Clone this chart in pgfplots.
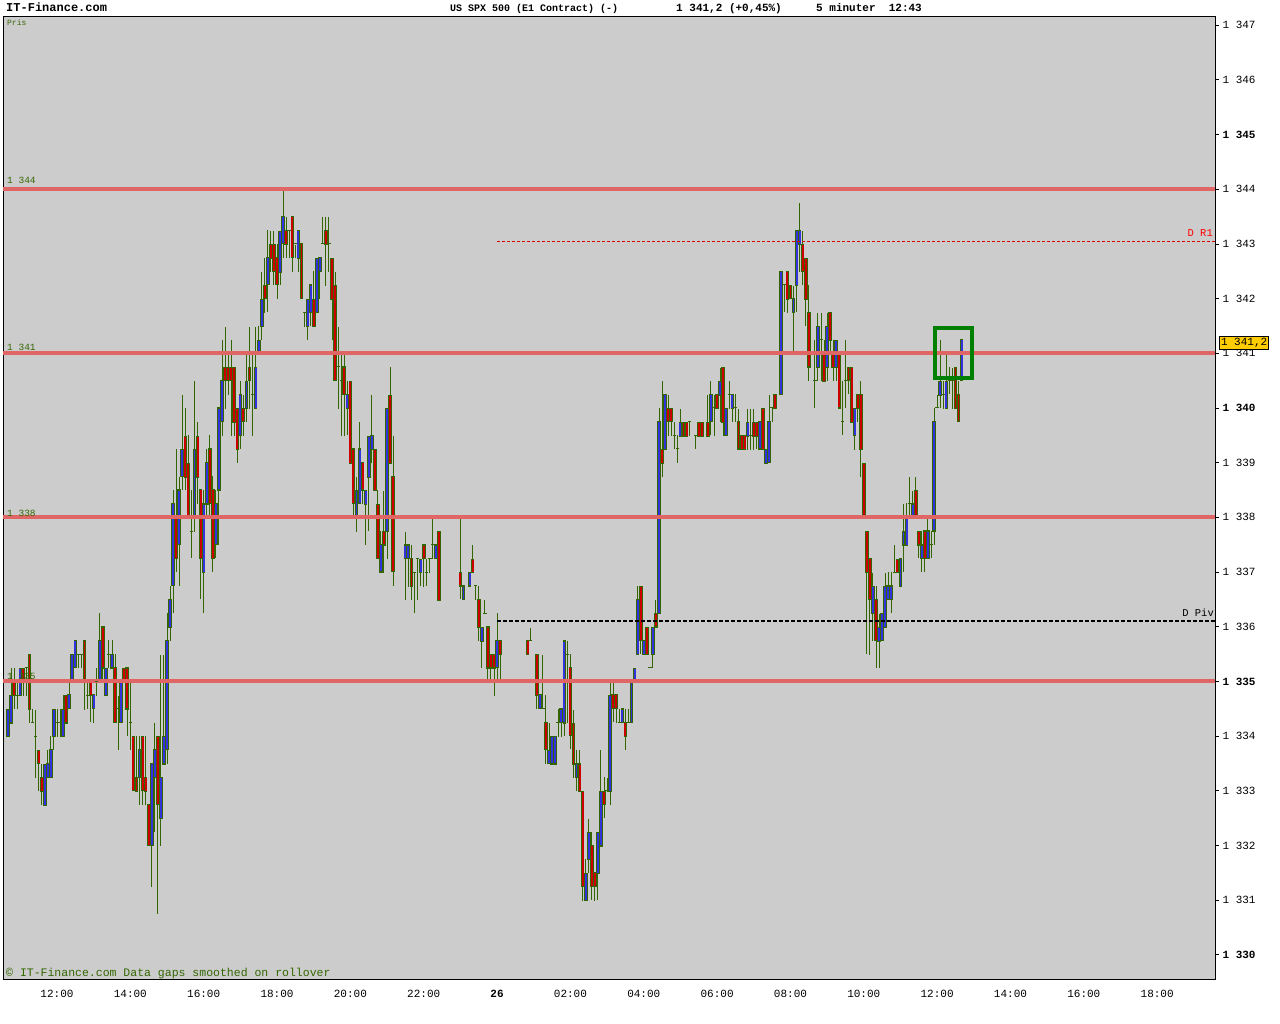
\documentclass[border=0pt]{standalone}
\usepackage{pgfplots}
\pgfplotsset{compat=1.18}
\usepackage{pgfplotstable}
\usepackage{fontspec}
\setmainfont{Liberation Mono}
\definecolor{bg}{HTML}{CCCCCC}
\definecolor{wick}{HTML}{336600}
\definecolor{upc}{HTML}{3333DD}
\definecolor{dnc}{HTML}{CC0000}
\definecolor{lvl}{HTML}{E06666}
\definecolor{pbox}{HTML}{FFCC00}
\pgfplotstableread{
n o h l c
-16 1334.00 1334.50 1334.00 1334.50
-15 1334.25 1335.25 1334.25 1334.75
-14 1335.00 1335.25 1334.50 1334.75
-13 1334.75 1335.00 1334.50 1334.75
-12 1334.75 1335.25 1334.75 1335.25
-11 1335.25 1335.25 1334.75 1335.00
-10 1335.25 1335.25 1334.75 1335.25
-9 1335.50 1335.50 1334.25 1334.50
-8 1334.25 1334.50 1334.25 1334.25
-7 1334.00 1334.50 1333.25 1334.00
-6 1333.75 1333.75 1333.00 1333.50
-5 1333.25 1333.50 1332.75 1333.00
-4 1332.75 1333.50 1332.75 1333.50
-3 1333.25 1333.75 1333.25 1333.50
-2 1333.25 1334.00 1333.25 1333.75
-1 1334.00 1334.50 1333.75 1334.50
0 1334.25 1334.50 1334.00 1334.25
1 1334.25 1334.50 1334.00 1334.25
2 1334.00 1334.75 1334.00 1334.50
3 1334.75 1334.75 1334.25 1334.25
4 1334.50 1335.00 1334.50 1334.75
5 1335.00 1335.50 1335.00 1335.50
6 1335.25 1335.75 1335.25 1335.75
7 1335.50 1335.50 1335.25 1335.50
8 1335.50 1335.50 1335.25 1335.50
9 1335.75 1335.75 1334.50 1335.00
10 1334.75 1335.00 1334.50 1334.75
11 1335.00 1335.00 1334.25 1334.75
12 1334.50 1334.75 1334.25 1334.75
13 1335.00 1335.25 1334.75 1335.00
14 1335.00 1336.25 1335.00 1335.75
15 1336.00 1336.00 1335.00 1335.25
16 1334.75 1335.25 1334.75 1335.25
17 1335.50 1335.75 1335.25 1335.50
18 1335.25 1335.75 1335.25 1335.50
19 1335.25 1335.50 1334.25 1334.25
20 1334.50 1334.75 1333.75 1334.50
21 1334.25 1335.00 1334.25 1335.00
22 1335.25 1335.25 1335.00 1335.00
23 1335.25 1335.25 1334.00 1334.50
24 1334.25 1335.00 1333.75 1334.25
25 1334.00 1334.00 1333.00 1333.00
26 1333.25 1334.00 1333.00 1333.00
27 1333.25 1334.00 1332.75 1333.75
28 1334.00 1334.00 1332.75 1333.00
29 1333.25 1334.00 1332.75 1333.00
30 1332.75 1332.75 1332.00 1332.00
31 1332.00 1333.50 1331.25 1333.50
32 1333.25 1334.25 1332.25 1333.75
33 1334.00 1334.00 1330.75 1332.75
34 1332.50 1335.50 1332.00 1333.25
35 1333.50 1335.50 1333.50 1334.00
36 1333.75 1336.25 1333.50 1335.75
37 1336.00 1336.75 1335.75 1336.50
38 1336.75 1338.50 1336.25 1338.25
39 1338.00 1339.25 1337.00 1337.25
40 1337.50 1338.75 1336.75 1338.50
41 1338.75 1340.25 1338.50 1339.25
42 1339.50 1340.00 1338.50 1338.75
43 1339.00 1339.50 1338.00 1338.00
44 1337.75 1338.50 1337.25 1337.75
45 1338.00 1340.50 1337.75 1339.25
46 1339.50 1339.75 1338.25 1338.75
47 1338.50 1338.50 1336.50 1337.25
48 1337.00 1338.50 1336.25 1338.25
49 1338.25 1339.25 1338.00 1339.00
50 1339.25 1339.50 1338.00 1338.25
51 1338.50 1338.75 1337.00 1337.25
52 1337.50 1338.50 1337.25 1338.25
53 1338.50 1340.00 1337.50 1340.00
54 1339.75 1341.25 1339.50 1340.50
55 1340.75 1341.50 1340.00 1340.50
56 1340.75 1341.00 1340.25 1340.50
57 1340.75 1341.25 1339.50 1340.50
58 1340.75 1340.75 1339.50 1339.75
59 1340.00 1340.00 1339.00 1339.25
60 1339.50 1340.50 1339.25 1340.25
61 1340.00 1340.25 1339.50 1339.75
62 1340.00 1341.00 1339.75 1340.50
63 1340.75 1341.50 1340.00 1340.50
64 1340.25 1341.00 1339.50 1340.25
65 1340.00 1341.50 1340.00 1340.75
66 1341.00 1341.50 1341.00 1341.25
67 1341.50 1342.50 1341.25 1342.00
68 1342.25 1342.75 1341.75 1342.00
69 1342.25 1343.25 1341.75 1342.75
70 1343.00 1343.25 1342.50 1342.75
71 1343.00 1343.25 1342.25 1342.50
72 1342.75 1343.00 1342.00 1342.25
73 1342.50 1343.25 1342.25 1343.25
74 1343.00 1344.00 1342.75 1343.50
75 1343.25 1343.50 1342.75 1343.00
76 1343.25 1343.25 1342.75 1343.25
77 1343.50 1343.50 1342.50 1342.75
78 1343.00 1343.00 1342.75 1343.00
79 1342.75 1343.25 1342.50 1343.25
80 1343.00 1343.00 1342.00 1342.00
81 1341.75 1341.75 1341.50 1341.75
82 1341.50 1342.00 1341.25 1342.00
83 1341.75 1342.25 1341.50 1342.25
84 1342.00 1342.50 1341.50 1341.50
85 1341.75 1342.75 1341.75 1342.75
86 1342.50 1342.75 1342.00 1342.75
87 1343.00 1343.50 1343.00 1343.00
88 1343.25 1343.50 1342.25 1343.00
89 1343.00 1343.50 1342.50 1343.00
90 1342.75 1342.75 1341.25 1342.00
91 1342.25 1342.50 1340.50 1340.50
92 1340.75 1341.50 1340.00 1340.75
93 1340.50 1341.00 1339.50 1340.50
94 1340.75 1341.00 1339.50 1340.25
95 1340.00 1340.50 1339.50 1340.25
96 1340.50 1340.50 1339.00 1339.00
97 1339.25 1339.25 1338.00 1338.25
98 1338.00 1338.75 1337.75 1338.50
99 1338.25 1339.75 1338.25 1339.25
100 1339.00 1339.00 1338.25 1338.50
101 1338.25 1338.50 1337.50 1338.50
102 1338.75 1339.50 1337.75 1339.50
103 1339.25 1340.25 1339.00 1339.50
104 1339.25 1339.25 1338.50 1338.50
105 1338.25 1338.50 1337.25 1337.25
106 1337.00 1337.75 1337.00 1337.50
107 1337.75 1338.50 1337.00 1337.50
108 1337.75 1340.00 1337.25 1340.00
109 1340.25 1340.75 1339.00 1339.00
110 1338.75 1339.50 1336.75 1337.00
114 1337.25 1337.75 1336.50 1337.50
115 1337.25 1337.50 1336.75 1337.50
116 1337.25 1337.50 1336.50 1336.75
117 1337.00 1337.00 1336.25 1337.00
118 1337.25 1337.25 1336.50 1337.25
119 1337.00 1337.25 1336.75 1337.25
120 1337.50 1337.50 1336.75 1337.25
121 1337.00 1337.25 1336.75 1337.00
122 1337.25 1337.25 1337.00 1337.25
123 1337.50 1338.00 1337.25 1337.50
124 1337.25 1337.50 1337.25 1337.50
125 1337.75 1337.75 1336.50 1336.50
132 1337.00 1338.00 1336.50 1336.75
133 1336.50 1336.75 1336.50 1336.75
135 1336.75 1337.00 1336.75 1337.00
136 1337.25 1337.50 1337.00 1337.00
137 1336.75 1336.75 1336.50 1336.75
138 1336.50 1336.75 1335.75 1336.00
139 1335.75 1336.00 1335.25 1336.00
140 1336.25 1336.50 1336.25 1336.25
141 1336.00 1336.00 1335.00 1335.25
142 1335.50 1335.50 1335.00 1335.25
143 1335.50 1335.50 1334.75 1335.25
144 1335.25 1336.25 1335.00 1335.75
145 1335.75 1335.75 1335.00 1335.50
154 1335.75 1335.75 1335.50 1335.50
155 1335.75 1336.00 1335.75 1335.75
157 1335.50 1335.50 1334.50 1334.75
158 1334.50 1334.75 1334.50 1334.75
159 1334.50 1335.50 1334.50 1334.50
160 1334.25 1334.75 1333.50 1333.75
161 1333.50 1334.25 1333.50 1333.75
162 1333.50 1334.00 1333.50 1334.00
163 1333.50 1334.00 1333.50 1334.00
164 1334.25 1334.50 1334.00 1334.25
165 1334.25 1334.50 1334.00 1334.50
166 1334.25 1335.75 1334.00 1335.75
167 1335.50 1335.75 1334.25 1335.50
168 1335.25 1335.50 1333.75 1334.00
169 1334.25 1334.50 1333.25 1333.50
170 1333.25 1333.75 1333.00 1333.50
171 1333.50 1333.75 1333.00 1333.00
172 1333.00 1333.00 1331.00 1331.25
173 1331.00 1331.75 1331.00 1331.50
174 1331.75 1332.50 1331.50 1332.25
175 1332.00 1332.25 1331.00 1331.25
176 1331.50 1331.50 1331.00 1331.25
177 1331.50 1332.25 1331.00 1332.25
178 1332.00 1333.75 1332.00 1333.00
179 1333.00 1333.25 1332.50 1332.75
180 1333.00 1333.25 1333.00 1333.00
181 1333.00 1335.00 1332.75 1334.75
182 1334.75 1335.00 1334.25 1334.50
183 1334.75 1334.75 1334.25 1334.50
184 1334.25 1334.50 1334.25 1334.25
185 1334.25 1334.50 1334.25 1334.50
186 1334.25 1334.50 1333.75 1334.00
187 1334.25 1334.50 1334.25 1334.25
188 1334.25 1335.00 1334.25 1335.00
189 1335.00 1335.25 1335.00 1335.25
190 1335.50 1336.75 1335.50 1336.50
191 1336.75 1336.75 1335.50 1335.75
192 1335.50 1335.75 1335.50 1335.75
193 1336.00 1336.00 1335.50 1335.50
194 1335.25 1335.25 1335.25 1335.25
195 1335.50 1336.00 1335.25 1336.00
196 1336.25 1336.50 1336.00 1336.00
197 1336.25 1340.00 1336.25 1339.75
198 1339.25 1340.50 1338.75 1339.00
199 1339.25 1340.25 1339.25 1340.25
200 1340.00 1340.25 1339.50 1339.75
201 1340.00 1340.00 1339.50 1339.75
202 1339.50 1339.75 1339.25 1339.50
203 1339.25 1339.50 1339.00 1339.25
204 1339.50 1340.00 1339.50 1339.75
205 1339.75 1339.75 1339.50 1339.50
206 1339.75 1339.75 1339.50 1339.50
207 1339.75 1339.75 1339.50 1339.75
209 1339.50 1339.50 1339.25 1339.50
210 1339.75 1339.75 1339.50 1339.50
211 1339.75 1339.75 1339.50 1339.50
213 1339.75 1340.25 1339.50 1339.50
214 1339.75 1340.50 1339.50 1340.25
215 1340.00 1340.25 1339.50 1340.00
216 1340.25 1340.25 1340.00 1340.00
217 1340.25 1340.75 1339.75 1340.50
218 1340.75 1340.75 1339.50 1339.75
219 1339.50 1340.00 1339.50 1340.00
220 1340.25 1340.50 1340.00 1340.25
221 1340.00 1340.25 1339.75 1340.25
222 1340.00 1340.25 1339.75 1340.00
223 1339.75 1340.00 1339.25 1339.25
224 1339.50 1339.50 1339.25 1339.25
225 1339.50 1339.50 1339.25 1339.25
226 1339.50 1340.00 1339.25 1339.75
227 1339.50 1340.00 1339.25 1339.50
228 1339.75 1340.00 1339.25 1339.50
229 1339.75 1339.75 1339.25 1339.50
230 1339.25 1339.75 1339.25 1339.75
231 1340.00 1340.00 1339.25 1339.25
232 1339.00 1339.25 1339.00 1339.25
233 1339.00 1340.25 1339.00 1339.75
234 1340.00 1340.00 1339.75 1340.00
235 1340.25 1340.25 1340.00 1340.00
237 1340.25 1342.50 1340.25 1342.50
238 1342.25 1342.25 1341.75 1342.25
239 1342.50 1342.50 1341.75 1342.00
240 1342.25 1342.25 1342.00 1342.00
241 1341.75 1342.25 1341.00 1342.00
242 1342.25 1343.25 1341.75 1343.25
243 1343.00 1343.75 1342.50 1343.25
244 1343.00 1343.25 1342.25 1342.50
245 1342.75 1342.75 1341.50 1342.00
246 1341.75 1342.25 1340.50 1340.75
248 1340.50 1341.25 1340.00 1340.50
249 1340.75 1341.75 1340.50 1341.50
250 1341.25 1341.75 1340.50 1341.25
251 1341.00 1341.25 1340.50 1340.50
252 1340.75 1341.75 1340.50 1341.50
253 1341.75 1341.75 1341.00 1341.25
254 1341.00 1341.25 1340.50 1340.75
255 1340.75 1341.25 1340.50 1341.25
256 1341.00 1341.00 1340.00 1340.00
257 1339.75 1340.50 1339.50 1339.75
258 1340.50 1341.25 1340.00 1340.50
259 1340.75 1340.75 1340.25 1340.50
260 1340.75 1340.75 1339.75 1339.75
261 1339.50 1340.00 1339.25 1340.00
262 1340.25 1340.25 1339.75 1340.00
263 1340.25 1340.50 1338.75 1339.25
264 1339.00 1339.00 1338.00 1338.00
265 1337.75 1337.75 1335.50 1337.00
266 1337.25 1337.25 1335.50 1336.50
267 1336.25 1337.00 1335.75 1336.75
268 1336.50 1336.75 1335.25 1335.75
269 1335.75 1336.25 1335.25 1336.00
270 1335.75 1336.25 1335.75 1336.25
271 1336.00 1337.00 1336.00 1336.75
272 1336.50 1337.00 1336.50 1336.75
273 1336.50 1337.00 1336.25 1336.75
274 1337.00 1337.50 1337.00 1337.00
275 1337.25 1337.25 1337.00 1337.00
276 1336.75 1337.25 1336.75 1337.25
277 1337.50 1338.25 1337.00 1337.75
278 1337.50 1338.25 1337.50 1338.00
279 1338.25 1338.75 1338.00 1338.25
280 1338.00 1338.50 1338.00 1338.25
281 1338.50 1338.75 1338.00 1338.00
282 1337.75 1337.75 1337.25 1337.50
283 1337.25 1337.75 1337.00 1337.50
284 1337.75 1337.75 1337.00 1337.25
285 1337.25 1338.00 1337.25 1337.75
286 1337.50 1337.75 1337.25 1337.50
287 1337.75 1340.00 1337.50 1339.75
288 1340.00 1340.25 1340.00 1340.00
289 1340.25 1341.25 1340.00 1340.50
290 1340.25 1340.50 1340.00 1340.25
291 1340.00 1341.00 1340.00 1340.50
292 1340.50 1340.75 1340.25 1340.50
293 1340.50 1340.75 1340.00 1340.50
294 1340.75 1340.75 1340.00 1340.00
295 1340.25 1340.50 1339.75 1339.75
296 1340.50 1341.25 1340.50 1341.25
}\candles
\begin{document}
\begin{tikzpicture}[x=1pt,y=1pt]
\path[use as bounding box] (0,0) rectangle (1280,1024);
\begin{axis}[
  at={(3pt,44pt)}, anchor=south west,
  scale only axis, width=1212pt, height=963pt,
  xmin=-17.67, xmax=378.93, ymin=1329.54, ymax=1347.15,
  axis background/.style={fill=bg},
  axis line style={black, line width=1pt},
  tick align=outside,
  major tick length=4pt,
  tick style={black, line width=0.8pt},
  xtick style={draw=none},
  ytick pos=right, yticklabel pos=right,
  xtick pos=bottom,
  ticklabel style={font=\fontsize{11}{13}\selectfont},
  xticklabel style={yshift=-3pt},
  xtick={0,24,48,72,96,120,144,168,192,216,240,264,288,312,336,360},
  xticklabels={12:00,14:00,16:00,18:00,20:00,22:00,\textbf{26},02:00,04:00,06:00,08:00,10:00,12:00,14:00,16:00,18:00},
  ytick={1330,1331,1332,1333,1334,1335,1336,1337,1338,1339,1340,1341,1342,1343,1344,1345,1346,1347},
  yticklabels={\textbf{1 330},1 331,1 332,1 333,1 334,\textbf{1 335},1 336,1 337,1 338,1 339,\textbf{1 340},1 341,1 342,1 343,1 344,\textbf{1 345},1 346,1 347},
  clip=true,
]
% wicks
\addplot[draw=none, mark=none, forget plot,
  error bars/.cd, y dir=both, y explicit, error mark=none,
  error bar style={draw=wick, line width=1pt}]
  table[x=n, y expr={(\thisrow{h}+\thisrow{l})/2}, y error expr={(\thisrow{h}-\thisrow{l})/2}] {\candles};
% body outline
\addplot[draw=none, mark=none, forget plot,
  restrict expr to domain={abs(\thisrow{c}-\thisrow{o})}{0.01:100},
  unbounded coords=jump,
  error bars/.cd, y dir=both, y explicit, error mark=none,
  error bar style={draw=wick, line width=3.6pt}]
  table[x=n, y expr={(\thisrow{o}+\thisrow{c})/2}, y error expr={abs(\thisrow{c}-\thisrow{o})/2+0.01}] {\candles};
% up bodies
\addplot[draw=none, mark=none, forget plot,
  restrict expr to domain={\thisrow{c}-\thisrow{o}}{0.01:100},
  unbounded coords=jump,
  error bars/.cd, y dir=both, y explicit, error mark=none,
  error bar style={draw=upc, line width=1.9pt}]
  table[x=n, y expr={(\thisrow{o}+\thisrow{c})/2}, y error expr={abs(\thisrow{c}-\thisrow{o})/2-0.01}] {\candles};
% down bodies
\addplot[draw=none, mark=none, forget plot,
  restrict expr to domain={\thisrow{o}-\thisrow{c}}{0.01:100},
  unbounded coords=jump,
  error bars/.cd, y dir=both, y explicit, error mark=none,
  error bar style={draw=dnc, line width=1.9pt}]
  table[x=n, y expr={(\thisrow{o}+\thisrow{c})/2}, y error expr={abs(\thisrow{c}-\thisrow{o})/2-0.01}] {\candles};
% doji
\addplot[only marks, mark=-, mark size=1.7pt, mark options={draw=wick, line width=1pt}, forget plot,
  restrict expr to domain={abs(\thisrow{c}-\thisrow{o})}{-1:0.01}]
  table[x=n, y=c] {\candles};
% level lines
\addplot[lvl, line width=4pt, forget plot] coordinates {(-17.67,1344) (378.93,1344)};
\addplot[lvl, line width=4pt, forget plot] coordinates {(-17.67,1341) (378.93,1341)};
\addplot[lvl, line width=4pt, forget plot] coordinates {(-17.67,1338) (378.93,1338)};
\addplot[lvl, line width=4pt, forget plot] coordinates {(-17.67,1335) (378.93,1335)};
% pivots
\addplot[red!85!black, line width=0.8pt, dash pattern=on 3pt off 2pt, forget plot] coordinates {(144,1343.05) (378.93,1343.05)};
\addplot[black, line width=2pt, dash pattern=on 4pt off 2pt, forget plot] coordinates {(144,1336.1) (378.93,1336.1)};
% marker box
\draw[green!50!black, line width=3.5pt] (axis cs:287.3,1340.55) rectangle (axis cs:299.4,1341.46);
\end{axis}
% texts
\node[anchor=base west, inner sep=0pt, font=\fontsize{12}{14}\selectfont\bfseries] at (6,1012) {IT-Finance.com};
\node[anchor=base west, inner sep=0pt, font=\fontsize{10}{12}\selectfont\bfseries] at (450,1012) {US SPX 500 (E1 Contract) (-)};
\node[anchor=base west, inner sep=0pt, font=\fontsize{11}{12}\selectfont\bfseries] at (676,1012) {1 341,2 (+0,45\%)};
\node[anchor=base west, inner sep=0pt, font=\fontsize{11}{12}\selectfont\bfseries] at (816,1012) {5 minuter~~12:43};
\node[anchor=base west, inner sep=0pt, text=wick, font=\fontsize{8}{9}\selectfont] at (7,998) {Pris};
\node[anchor=base west, inner sep=0pt, text=wick, font=\fontsize{9.5}{10}\selectfont] at (7,840) {1 344};
\node[anchor=base west, inner sep=0pt, text=wick, font=\fontsize{9.5}{10}\selectfont] at (7,673) {1 341};
\node[anchor=base west, inner sep=0pt, text=wick, font=\fontsize{9.5}{10}\selectfont] at (7,507) {1 338};
\node[anchor=base west, inner sep=0pt, text=wick, font=\fontsize{9.5}{10}\selectfont] at (7,344) {1 335};
\node[anchor=base east, inner sep=0pt, text=red, font=\fontsize{10.5}{11}\selectfont] at (1213,787) {D R1};
\node[anchor=base east, inner sep=0pt, text=black, font=\fontsize{10.5}{11}\selectfont] at (1214,407) {D Piv};
\node[anchor=base west, inner sep=0pt, text=wick, font=\fontsize{11.5}{12}\selectfont] at (6,47) {© IT-Finance.com Data gaps smoothed on rollover};
\node[anchor=west, draw=black, fill=pbox, line width=0.8pt, inner sep=1.6pt, font=\fontsize{11}{12}\selectfont] at (1219,681) {1 341,2};
\end{tikzpicture}
\end{document}
